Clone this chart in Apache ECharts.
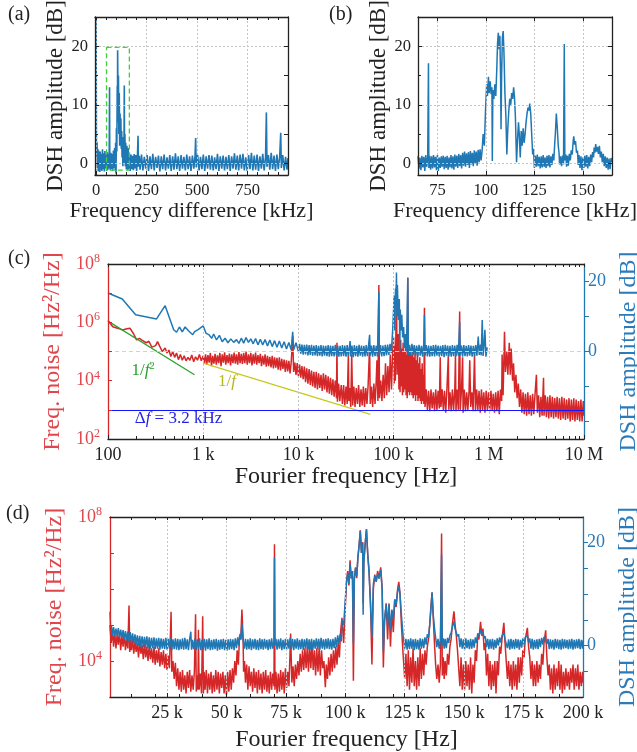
<!DOCTYPE html>
<html>
<head>
<meta charset="utf-8">
<script src="https://cdn.jsdelivr.net/npm/echarts@6/dist/echarts.min.js"></script>
<style>
html, body { margin: 0; padding: 0; background: #fff; }
#chart { width: 637px; height: 752px; }
</style>
</head>
<body>
<div id="chart"></div>
<script>
var SERIF = 'Liberation Serif';
var INK = '#222';
var BLUE = '#1f77b4', RED = '#d62728';
var RED_TXT = '#e0474c', BLUE_TXT = '#2b7bba';

// (a) DSH amplitude vs frequency difference, [kHz, dB]
var aDiff = [[0,25],[1,18],[2,4],[3,1.2],[5,3.6],[7,-0.8],[9,2.5],[11,-1.4],[13,2.2],[15,-1],[17,1.8],[19,-1.5],[21,2],[23,-1.1],[26,1.6],[29,-1.3],[32,2.4],[35,-1],[38,1.7],[41,-1.4],[44,2.1],[47,-0.9],[50,1.5],[53,-1.3],[56,1.9],[59,-1.1],[62,1.6],[65,-0.9],[67,13],[68,0.3],[71,-1.2],[74,1.8],[77,-1],[80,1.6],[83,-1.3],[86,2.2],[89,-0.8],[92,2.6],[95,-1.2],[97,3.5],[99,-1.8],[101,6],[103,2],[105,13.2],[106,7],[107,19.3],[109,9],[111,15],[113,5],[115,12],[117,3],[119,8.5],[121,4],[123,7.7],[125,2.5],[127,5.5],[129,1],[131,4.5],[133,-0.5],[136,3.8],[138,0],[140,13.3],[141,1.5],[143,5],[145,-0.5],[147,3.5],[150,-1],[153,3],[156,-1.2],[159,2.6],[162,-1],[165,1.8],[169,-1.3],[173,1.5],[177,-1],[181,1.3],[185,-1.2],[189,1.6],[193,-0.9],[197,1.4],[201,-1.3],[205,1.2],[208,4.7],[210,-0.6],[214,1.3],[218,-1.1],
  [225,1.5],[232,-1.2],[239,1.1],[246,-0.9],[253,1.4],[260,-1.3],[267,1.2],[274,-1],[281,1.6],[288,-1.2],[295,1.1],[302,-0.8],[309,1.3],[316,-1.4],[323,1.2],[330,-1],[337,1.5],[344,-1.2],[351,1],[358,-0.9],[365,1.4],[372,-1.3],[379,1.2],[386,-1.1],[393,1.7],[400,-1],[407,1.2],[414,-1.3],[421,1.4],[428,-0.9],[435,1.1],[442,-1.2],[449,1.5],[456,-1],[463,1.2],[470,-1.3],[477,1.3],[484,-0.9],[490,1.2],[493,4.3],[496,-0.7],[503,1.4],[510,-1.2],[517,1.1],[524,-1],[531,1.5],[538,-1.3],[545,1.2],[552,-0.9],[559,1.4],[566,-1.1],[573,1.3],[580,-1.2],[587,1],[594,-1],[601,1.6],[608,-1.3],[615,1.2],[622,-0.9],[629,1.3],[636,-1.2],[643,1.1],[650,-1],[657,1.4],[664,-1.3],[671,1.2],[678,-0.9],[685,1.7],[692,-1.1],[699,1.3],[706,-1.2],[713,1.5],[720,-0.9],[727,1.6],[734,-1.2],[741,1],[748,-1.3],[755,1.4],[762,-1],[769,1.8],[776,-1.2],[783,1.3],[790,-1.1],[797,1.5],[804,-1.3],[811,1.2],[818,-0.9],[825,1.6],[832,-1.2],[839,1.1],[843,8.7],[846,-0.6],[853,1.4],[860,-1.1],[867,1.8],[874,-1],[881,1.3],[888,-1.3],[895,1.5],[902,-1],[909,1.2],[914,5.2],[917,-0.8],[924,1.4],[931,-1.2],[938,1.1],[945,-1.1],[950,0.9]];

// (b) zoom of (a), [kHz, dB]
var bDiff = [[65,1.2],[65.5,-0.9],[66,1.0],[66.5,-1.2],[67,1.3],[67.5,-0.7],[68,1.1],[68.5,-1.3],[69,1.4],[69.5,-0.6],[70,1.0],[70.4,17.1],[70.6,-0.8],[71,1.3],[71.5,-1.1],[72,1.2],[72.5,-0.9],[73,1.4],[73.5,-0.7],[74,1.1],[74.5,-1.2],[75,1.4],[75.5,-1.3],[76,1.0],[76.5,-0.8],[77,1.2],[77.5,-0.6],[78,1.3],[78.5,-1.0],[79,1.1],[79.5,-0.8],[80,1.3],[80.5,-1.1],[81,1.0],[81.5,-0.7],[82,1.4],[82.5,-0.9],[83,1.2],[83.5,-1.1],[84,1.5],[84.5,-0.6],[85,1.3],[85.5,-0.8],[86,1.6],[86.5,-0.5],[87,1.4],[87.5,-0.9],[88,1.8],[88.5,-0.4],[89,2.0],[89.5,-0.6],[90,1.7],[90.5,-0.3],[91,1.9],[91.5,-0.8],[92,2.1],[92.5,-0.2],[93,1.8],[93.5,-0.5],[94,2.2],[94.5,-0.1],[95,2.0],[95.5,-0.4],[96,2.3],[96.5,0.2],[97,2.4],[97.5,0.5],[98,2.0],
  [98.6,5],[99.2,3],[99.8,9],[100.4,13.5],[100.8,11.5],[101.3,14.8],[101.7,12],[102.2,14],[102.7,11.8],[103.1,13],[103.3,0.4],[103.6,12.5],[104.1,11],[104.6,13.5],[105.1,11.5],[105.6,16],[106,20.5],[106.4,22.3],[106.8,19.5],[107.2,21.8],[107.6,14],[107.8,5.8],[108.1,15],[108.5,21.5],[108.9,22.6],[109.3,19],[109.8,12],[110.3,8],[110.8,1.5],[111.3,6],[111.8,9],[112.3,11],[112.8,10],[113.3,12],[113.8,11],[114.3,13],[114.7,11.5],[115.2,8],[115.8,0.2],[116.3,4],[116.8,7],[117.2,5],[117.7,1],[118.2,5.5],[118.7,3],[119.2,6],[119.7,3.5],[120.2,5],[120.7,7],[121.2,8.5],[121.7,9.5],[122.2,9],[122.6,10.2],[123.1,8.5],[123.6,5],[124.1,1.5],[124.5,2.5],
  [125,-0.8],[125.5,1.3],[126,-0.6],[126.5,1.5],[127,-0.5],[127.5,1.1],[128,-0.9],[128.5,1.2],[129,-0.7],[129.5,1.4],[130,-0.6],[130.5,1.0],[131,-0.8],[131.5,1.3],[132,-0.5],[132.5,1.4],[133,-0.7],[133.5,1.2],[134,-0.3],[134.5,1.6],[135,0.5],[135.5,3.5],[135.8,5],[136.3,8.5],[136.8,6],[137.3,3],[137.7,1.8],[138,-0.2],[138.5,1.2],[139,-0.5],[139.5,1.3],[140,-0.2],[140.4,20.4],[140.7,0.5],[141.2,1.5],[141.6,-0.6],[142,1.3],[142.5,-0.4],[143,1.6],[143.5,0.5],[144,2.2],[144.5,1.5],[145,3.8],[145.3,4.6],[145.7,3.2],[146.2,3.8],[146.7,1.8],[147.2,2.2],[147.6,-0.3],[148,1.4],[148.5,-0.8],[149,1.2],[149.5,-1.2],[150,1.0],[150.5,-0.8],[151,1.3],[151.5,-0.6],[152,1.4],[152.5,-0.9],[153,1.1],[153.5,-0.5],[154,1.5],[154.5,0.2],[155,1.9],[155.5,1.0],[155.8,2.7],[156.2,1.8],[156.6,3.3],[157,2.0],[157.5,2.8],[158,1.6],[158.5,3.0],[159,1.0],[159.5,2.0],[160,0.2],[160.5,1.6],[161,-0.5],[161.5,1.2],[162,-0.8],[162.5,1.0],[163,-1.1],[163.5,0.8],[164,-1.0],[164.5,0.9],[165,0.2]];

// dashed box in (a): kHz from, kHz to, dB low, dB high
var zoomBox = [52, 165, -1.15, 19.8];

// (c) frequency noise, [log10 f/Hz, log10 S/(Hz^2/Hz)]
var cNoise = [[2.0,6.06],[2.05,5.85],[2.1,5.8],[2.15,5.74],[2.2,5.78],[2.23,5.8],[2.27,5.6],[2.3,5.4],[2.33,5.45],[2.36,5.38],[2.4,5.3],[2.43,5.35],[2.46,5.15],[2.48,5.12],[2.5,5.2],[2.52,5.34],[2.54,5.2],[2.57,5.0],[2.6,5.12],[2.62,4.95],[2.64,5.05],[2.66,4.83],[2.68,5.0],[2.7,4.8],[2.72,4.95],[2.74,4.72],[2.76,4.9],[2.78,4.7],[2.8,4.85],[2.82,4.68],[2.84,4.8],[2.86,4.7],[2.88,4.88],[2.9,4.65],[2.92,4.82],[2.94,4.7],[2.96,4.9],[2.98,4.68],[3.0,4.85],
  [3.0125,4.6],[3.025,4.9],[3.0375,4.55],[3.05,4.88],[3.0625,4.62],[3.075,4.95],[3.0875,4.5],[3.1,4.85],[3.1125,4.58],[3.125,4.92],[3.1375,4.55],[3.15,4.87],[3.1625,4.6],[3.175,4.95],[3.1875,4.5],[3.2,4.9],[3.2125,4.62],[3.225,4.97],[3.2375,4.55],[3.25,4.88],[3.2625,4.6],[3.275,4.93],[3.2875,4.52],[3.3,4.9],[3.3125,4.6],[3.325,4.96],[3.3375,4.58],[3.35,4.9],[3.3625,4.55],[3.375,4.98],[3.3875,4.6],[3.4,4.92],[3.4125,4.57],[3.425,4.95],[3.4375,4.6],[3.45,5.0],[3.4625,4.55],[3.475,4.9],[3.4875,4.6],[3.5,4.95],[3.5125,4.52],[3.525,4.9],[3.5375,4.58],[3.55,4.96],[3.5625,4.55],[3.575,4.88],[3.5875,4.6],[3.6,4.92],[3.6125,4.5],[3.625,4.85],[3.6375,4.55],[3.65,4.9],[3.6625,4.48],[3.675,4.85],[3.6875,4.5],[3.7,4.82],[3.7125,4.45],[3.725,4.85],[3.7375,4.42],[3.75,4.8],[3.7625,4.45],[3.775,4.78],[3.7875,4.38],[3.8,4.8],[3.8125,4.35],[3.825,4.75],[3.8375,4.4],[3.85,4.72],[3.8625,4.3],[3.875,4.7],[3.8875,4.32],[3.9,4.68],[3.9125,4.25],[3.925,4.65],[3.94,5.53],[3.95,4.3],[3.9625,4.62],[3.975,4.2],[3.9875,4.6],[4.0,4.15],[4.0125,4.55],[4.025,4.1],[4.0375,4.5],[4.05,4.05],[4.0625,4.48],[4.075,3.95],[4.0875,4.42],[4.1,3.9],[4.1125,4.4],[4.125,3.85],[4.1375,4.35],[4.15,3.8],[4.1625,4.3],[4.175,3.75],[4.1875,4.3],[4.2,3.7],[4.2125,4.25],[4.225,3.75],[4.2375,4.2],[4.25,3.65],[4.2625,4.25],[4.275,3.7],[4.2875,4.2],[4.3,3.6],[4.3125,4.15],[4.325,3.55],[4.3375,4.1],[4.35,3.5],[4.3625,4.05],[4.375,3.45],[4.3875,4.0],[4.4,3.4],[4.405,5.3],[4.41,3.28],[4.4225,3.9],[4.435,3.3],[4.45,3.85],
  [4.4625,3.2],[4.475,3.85],[4.4875,3.15],[4.5,3.8],[4.5125,3.2],[4.525,4.94],[4.53,3.3],[4.5375,3.75],[4.55,3.1],[4.56,4.9],[4.57,3.15],[4.5825,3.8],[4.595,3.1],[4.6075,3.75],[4.62,3.2],[4.6325,3.85],[4.645,3.1],[4.6575,3.7],[4.67,3.15],[4.6825,3.8],[4.695,3.1],[4.7075,3.75],[4.72,3.2],[4.7325,3.85],[4.748,5.2],[4.755,3.2],[4.7675,3.8],[4.78,3.1],[4.7925,3.9],[4.805,3.2],[4.8175,4.0],[4.825,4.7],[4.835,3.3],[4.845,7.28],[4.852,3.4],[4.865,4.0],[4.8775,3.3],[4.89,4.2],[4.9025,3.4],[4.915,4.6],[4.9275,3.5],[4.94,4.5],[4.9525,3.6],[4.965,4.9],[4.9775,3.7],[4.99,5.0],
  [5.0,5.5],[5.006,3.9],[5.012,5.2],[5.018,4.0],[5.025,5.9],[5.03,7.3],[5.037,4.2],[5.043,5.3],[5.05,5.6],[5.056,3.7],[5.062,5.0],[5.068,3.6],[5.075,5.4],[5.081,3.8],[5.087,5.1],[5.093,3.5],[5.1,5.3],[5.106,3.6],[5.112,5.0],[5.118,3.7],[5.125,5.2],[5.131,3.5],[5.137,4.9],[5.143,3.4],[5.149,7.54],[5.155,3.6],[5.162,5.0],[5.168,3.5],[5.175,5.1],[5.181,3.6],[5.187,4.9],[5.193,3.5],[5.2,5.2],[5.206,3.4],[5.212,4.8],[5.218,3.5],[5.225,5.0],[5.231,3.3],[5.237,4.7],[5.243,3.5],[5.25,5.1],[5.256,3.3],[5.262,4.6],[5.268,3.4],[5.275,4.8],[5.281,3.3],[5.287,4.4],[5.293,3.2],[5.3,4.6],[5.306,3.3],[5.312,4.2],[5.318,3.2],[5.324,6.5],[5.33,3.1],
  [5.3425,3.7],[5.355,3.0],[5.3675,3.65],[5.38,2.95],[5.3925,3.7],[5.405,3.05],[5.4175,3.6],[5.43,2.95],[5.4425,3.7],[5.455,3.0],[5.4675,3.65],[5.48,3.05],[5.49,4.8],[5.4975,3.1],[5.51,3.7],[5.5225,3.0],[5.535,3.65],[5.5475,2.9],[5.56,3.7],[5.575,4.9],[5.58,3.0],[5.5925,3.6],[5.605,2.95],[5.6175,3.7],[5.63,3.0],[5.6425,3.65],[5.65,4.9],[5.655,2.95],[5.6675,3.7],[5.68,3.0],[5.694,6.37],[5.7,3.0],[5.7125,3.65],[5.725,4.8],[5.73,2.9],[5.7425,3.7],[5.755,2.95],[5.7675,3.6],[5.78,3.0],[5.7925,3.65],[5.8,4.7],[5.81,3.1],[5.8225,3.6],[5.835,2.95],[5.85,4.9],[5.86,2.95],[5.8725,3.7],[5.885,3.0],[5.8975,3.65],[5.91,2.9],[5.9225,3.7],[5.935,3.0],[5.9475,3.6],[5.96,2.9],[5.9725,3.65],[5.985,3.0],[5.9975,3.6],[6.01,2.95],[6.0225,3.65],[6.035,3.0],[6.0475,3.55],[6.06,2.9],[6.0725,3.6],[6.085,2.95],[6.0975,3.65],[6.11,2.85],[6.1225,3.7],[6.135,3.3],[6.14,4.9],[6.15,3.5],[6.165,5.68],[6.175,4.3],[6.19,5.0],[6.2,4.2],[6.215,5.3],[6.225,4.2],[6.235,5.1],[6.25,4.0],[6.26,4.6],[6.2725,3.6],[6.285,4.2],[6.2975,3.4],[6.31,3.9],[6.3225,3.1],[6.335,3.7],[6.3475,2.9],[6.36,3.6],[6.3725,2.85],[6.385,3.55],[6.3975,2.8],[6.41,3.6],[6.4225,2.85],[6.435,3.5],[6.4475,2.8],[6.46,3.55],[6.4725,2.85],[6.485,3.5],[6.5,4.2],[6.51,2.9],[6.5225,3.5],[6.535,2.75],[6.5475,3.45],[6.56,2.8],[6.575,4.1],[6.58,2.8],[6.5925,3.5],[6.605,2.75],[6.6175,3.45],[6.63,2.7],[6.6425,3.5],[6.655,2.75],[6.6675,3.45],[6.68,2.7],[6.6925,3.4],[6.705,2.75],[6.7175,3.45],[6.73,2.7],[6.7425,3.4],[6.755,2.65],[6.7675,3.45],[6.78,2.7],[6.7925,3.4],[6.805,2.65],[6.8175,3.35],[6.83,2.7],[6.8425,3.4],[6.855,2.6],[6.8675,3.35],[6.88,2.65],[6.8925,3.4],[6.905,2.6],[6.9175,3.35],[6.93,2.65],[6.9425,3.3],[6.955,2.6],[6.9675,3.35],[6.98,2.6],[6.9925,3.3],[7.0,2.8]];

// (c) DSH amplitude, [log10 f/Hz, dB]
var cDsh = [[2.0,16.7],[2.15,15],[2.29,10.5],[2.51,9.3],[2.6,13.1],[2.69,6.2],[2.72,5.5],[2.75,7],[2.78,5.6],[2.81,7],[2.85,5.8],[2.89,4.8],[2.91,5.7],[2.95,6.3],[3.0,7.3],[3.03,5.2],[3.06,4.8],[3.09,3.8],[3.11,5],[3.14,3.3],[3.17,4.6],[3.2,2.8],[3.23,3.8],[3.26,2.5],[3.29,3.6],[3.32,2.6],[3.35,3.4],[3.375,2.3],[3.4,3.8],[3.425,2.4],[3.45,4],[3.475,2.6],[3.5,3.6],[3.525,2.2],[3.55,3.7],[3.575,1.9],[3.6,3.5],[3.625,1.9],[3.65,3.4],[3.675,1.6],[3.7,3.3],[3.725,1.4],[3.75,3.1],[3.775,1.2],[3.8,3],[3.825,1],[3.85,2.8],[3.875,0.7],[3.9,2.6],[3.925,0.4],[3.94,5.6],[3.95,0.5],[3.975,2.5],[4.0,0],
  [4.0125,2.2],[4.025,-0.6],[4.0375,2.0],[4.05,-0.9],[4.0625,1.9],[4.075,-0.8],[4.0875,2.0],[4.1,-1.1],[4.1125,1.8],[4.125,-1.0],[4.1375,1.9],[4.15,-1.2],[4.1625,1.7],[4.175,-1.1],[4.1875,1.8],[4.2,-1.3],[4.2125,1.6],[4.225,-1.2],[4.2375,1.8],[4.25,-1.4],[4.2625,1.7],[4.275,-1.2],[4.2875,1.6],[4.3,-1.3],[4.3125,1.8],[4.325,-1.5],[4.3375,1.7],[4.35,-1.3],[4.3625,1.6],[4.375,-1.4],[4.3875,1.9],[4.4,-1.2],[4.4125,1.7],[4.425,-1.5],[4.4375,1.6],[4.45,-1.4],[4.4625,1.8],[4.475,-1.3],[4.4875,1.7],[4.5,-1.5],[4.5125,1.8],[4.525,-1.2],[4.543,3],[4.55,-1.4],[4.5625,1.7],[4.575,-1.6],[4.5875,1.8],[4.6,-1.3],[4.6125,1.6],[4.625,-1.5],[4.6375,1.9],[4.65,-1.2],[4.6625,1.7],[4.675,-1.5],[4.6875,1.6],[4.7,-1.4],[4.7125,1.8],[4.725,-1.3],[4.7375,1.9],[4.748,4.8],[4.755,-1.2],[4.7675,1.7],[4.78,-1.5],[4.7925,1.8],[4.805,-1.3],[4.8175,1.6],[4.83,-1.4],[4.845,17],[4.85,-1],[4.8625,1.8],[4.875,-1.4],[4.8875,1.7],[4.9,-1.3],[4.9125,1.9],[4.925,-1.1],[4.9375,2.0],[4.95,-1.0],[4.9625,2.2],[4.975,-0.5],[4.99,6],
  [5.0,12],[5.005,16],[5.012,6],[5.02,18],[5.027,14],[5.03,22.6],[5.035,10],[5.04,19],[5.05,9],[5.06,15],[5.065,0],[5.07,12],[5.08,6],[5.086,10.5],[5.095,4],[5.105,7],[5.115,1],[5.125,5],[5.135,0],[5.149,21],
  [5.155,-1],[5.1675,1.9],[5.18,-1.2],[5.1925,2.2],[5.205,-1.0],[5.2175,1.8],[5.23,-1.3],[5.2425,1.7],[5.255,-1.4],[5.2675,1.9],[5.28,-1.2],[5.2925,1.6],[5.305,-1.5],[5.3175,2.5],[5.324,10.5],[5.33,-1.2],[5.3425,1.8],[5.355,-1.4],[5.3675,1.7],[5.38,-1.5],[5.3925,1.6],[5.405,-1.3],[5.4175,1.8],[5.43,-1.4],[5.4425,1.9],[5.455,-1.2],[5.4675,1.7],[5.48,-1.5],[5.4925,1.6],[5.505,-1.3],[5.5175,1.8],[5.53,-1.6],[5.5425,1.9],[5.555,-1.2],[5.5675,1.7],[5.58,-1.4],[5.5925,1.6],[5.605,-1.5],[5.6175,1.8],[5.63,-1.3],[5.6425,1.7],[5.655,-1.4],[5.6675,1.9],[5.68,-1.2],[5.694,8.4],[5.7,-1.1],[5.7125,1.7],[5.725,-1.5],[5.7375,1.8],[5.75,-1.3],[5.7625,1.6],[5.775,-1.4],[5.7875,1.8],[5.8,-1.2],[5.8125,1.7],[5.825,-1.5],[5.8375,1.6],[5.85,-1.3],[5.8625,1.8],[5.875,-1.2],[5.889,4.3],[5.9,-1],[5.9125,2],[5.92,-1.1],[5.931,9],[5.94,-1.3],[5.95,1.9],[5.959,6.2],[5.97,-1.5],[5.983,1.2]];

// (c) guide lines, [Hz, Hz^2/Hz]
var fitInvSq = [[100, 1.1e6], [810, 1.6e4]];
var fitInv = [[1000, 4e4], [57000, 700]];
var beatLevel = 1000;

// (d) frequency noise, [kHz, log10 S]
var dNoise = [[1,5.0],[1.5,4.5],[2,4.85],[2.5,4.4],[3,4.8],[3.5,4.35],[4,4.75],[4.5,4.45],[5,4.8],[5.5,4.3],[6,4.7],[6.5,4.4],[7,4.75],[7.5,4.3],[8,4.65],[8.5,4.35],[9,5.54],[9.3,4.25],[9.5,4.6],[10,4.3],[10.5,4.62],[11,4.2],[11.5,4.55],[12,4.25],[12.5,4.5],[13,4.1],[13.5,4.55],[14,4.2],[14.5,4.45],[15,4.05],[15.5,4.5],[16,4.1],[16.5,4.4],[17,4.0],[17.5,4.45],[18,4.05],[18.5,4.35],[19,3.95],[19.5,4.4],[20,3.9],[20.5,4.3],[21,3.95],[21.5,4.35],[22,3.85],[22.5,4.25],[23,3.9],[23.5,4.3],[24,3.8],[24.5,4.2],[25,3.75],[25.5,4.15],[26,3.8],[26.7,5.37],[27,3.7],[27.5,4.0],[28,3.5],[28.5,3.95],[29,3.3],[29.5,3.8],[30,3.2],[30.5,3.7],[31,3.15],[31.5,3.75],[32,3.2],[32.5,3.6],[33,3.1],[33.5,3.7],[34,3.25],[34.5,3.75],[35,3.15],[35.5,3.6],[36,3.2],[36.5,3.7],[37,5.3],[37.3,3.15],[37.6,3.6],[38,3.2],[38.2,4.87],[38.5,3.2],[39,3.65],[39.5,3.1],[40,5.24],[40.3,3.1],[40.6,3.7],[41,3.2],[41.5,3.75],[42,3.1],[42.5,3.65],[43,3.2],[43.5,3.7],[44,3.1],[44.5,3.6],[45,3.15],[45.5,3.75],[46,3.2],[46.5,3.7],[47,3.1],[47.5,3.65],[48,3.25],[48.5,3.7],[49,3.1],[49.5,3.6],[50,3.05],[50.5,3.7],[51,3.15],[51.5,3.75],[52,3.2],[52.5,3.8],[53,3.4],[53.5,4.0],[54,3.6],[54.5,4.3],[55,3.9],[55.5,4.7],[56,4.6],[56.5,5.43],[57,4.6],[57.2,3.7],[57.6,4.0],[58,3.4],[58.5,3.9],[59,3.2],[59.5,3.85],[60,3.3],[60.5,3.7],[61,3.15],[61.5,3.8],[62,3.25],[62.5,3.7],[63,3.1],[63.5,3.75],[64,3.2],[64.5,3.65],[65,3.1],[65.5,3.7],[66,3.2],[66.5,3.75],[67,3.15],[67.5,3.6],[68,3.1],[68.5,3.7],[69,3.2],[69.5,3.65],[70,3.3],[70.2,7.24],[70.4,3.2],[70.8,3.7],[71.3,3.1],[71.8,3.65],[72.3,3.15],[72.8,3.75],[73.3,3.2],[73.8,3.7],[74.3,3.1],[74.8,3.8],[75.3,3.25],[75.8,3.7],[76.3,3.3],[77,4.76],[77.5,3.4],[78,3.85],[78.5,3.3],[79,3.9],[79.5,3.5],[80,4.0],[80.5,3.6],[81,4.2],[81.5,3.7],[82,4.3],[82.5,3.75],[83,4.35],[83.5,3.8],[84,4.4],[84.5,3.7],[85,4.45],[85.5,3.8],[86,4.5],[86.5,3.75],[87,4.3],[87.5,3.6],[88,4.35],[88.5,3.7],[89,4.4],[89.5,3.6],[90,4.3],[90.5,3.8],[91,4.0],[91.6,3.27],[92,3.9],[92.5,3.5],[93,4.1],[93.5,3.6],[94,4.2],[94.5,3.7],[95,4.3],[95.5,3.8],[96,4.4],[96.5,3.9],[97,4.5],[97.5,4.1],[98,4.8],[98.6,5.2],[99.3,4.5],[100,5.5],
  [100.5,6.2],[101,6.5],[101.5,6.1],[102,6.8],[102.5,6.3],[103,6.5],[103.4,3.45],[103.8,6.3],[104.3,6.6],[104.8,6.3],[105.3,6.9],[105.8,7.2],[106.3,7.63],[106.8,7.0],[107.3,7.3],[107.5,5.6],[107.8,6.8],[108.4,7.3],[108.9,7.66],[109.4,7.0],[110,6.5],[110.6,5.6],[111.2,3.9],[111.8,6.0],[112.4,6.4],[113,6.2],[113.6,6.5],[114.2,6.3],[114.9,6.6],[115.5,6.0],[116,3.82],[116.5,5.1],[117.2,5.6],[117.8,4.6],[118.4,5.6],[119,4.4],[119.6,5.4],[120.2,4.8],[120.8,5.7],[121.4,5.5],[122,6.0],[122.5,6.2],[123,5.9],[123.6,5.0],[124.3,4.2],
  [125,3.5],[125.5,4.2],[126,3.3],[126.5,4.3],[127,3.2],[127.5,4.1],[128,3.4],[128.5,4.35],[129,3.3],[129.5,4.0],[130,3.2],[130.5,4.1],[131,3.3],[131.5,4.35],[132,3.5],[132.5,4.2],[133,3.6],[133.5,4.3],[134,3.9],[134.5,4.4],[135,4.6],[135.5,5.0],[136,5.5],[136.5,5.91],[137,5.2],[137.5,4.5],[138,3.9],[138.5,3.5],[139,3.9],[139.5,3.4],[140,3.9],[140.5,7.54],[140.8,3.6],[141.2,4.1],[141.6,3.5],[142,4.0],[142.5,3.6],[143,4.2],[143.5,3.9],[144,4.4],[144.5,4.6],[145,5.0],[145.7,5.38],[146.2,5.0],[146.7,4.7],[147.2,4.3],[147.7,3.8],[148.2,3.3],[148.7,4.1],[149.2,3.2],[149.7,3.9],[150.2,3.2],[150.7,4.0],[151.2,3.3],[151.7,3.9],[152.2,3.2],[152.7,4.1],[153.2,3.1],[153.7,3.9],[154.2,3.4],[154.7,4.3],[155.2,4.0],[155.7,4.7],[156.2,4.6],[156.9,5.09],[157.4,4.7],[157.9,4.9],[158.4,4.3],[158.9,4.5],[159.4,3.6],[159.9,4.2],[160.4,3.3],[160.9,4.0],[161.4,3.2],[161.9,3.9],[162.4,3.3],[162.9,4.0],[163.4,3.1],[163.9,4.0],[164.4,3.6],[164.9,4.4],[165.4,4.2],[165.9,4.6],[166.7,5.06],[167.2,4.5],[167.7,4.0],[168.2,3.5],[168.7,4.0],[169.2,3.3],[169.7,3.9],[170.2,3.2],[170.7,4.0],[171.2,3.3],[171.7,3.9],[172.2,3.2],[172.7,4.1],[173.2,3.4],[173.7,4.1],[174.2,3.6],[174.7,4.3],[175.2,4.1],[175.7,4.6],[176.6,4.92],[177.1,4.4],[177.6,4.1],[178.1,3.5],[178.6,4.0],[179.1,3.3],[179.6,3.9],[180.1,3.3],[180.6,4.0],[181.1,3.4],[181.6,3.9],[182.1,3.5],[182.6,4.2],[183.1,3.9],[183.6,4.5],[184.3,4.85],[184.8,4.1],[185.3,3.6],[185.8,3.9],[186.3,3.2],[186.8,3.8],[187.3,3.1],[187.8,3.9],[188.3,3.2],[188.8,3.8],[189.3,3.3],[189.8,4.0],[190.3,3.2],[190.8,3.9],[191.3,3.1],[191.8,3.7],[192.3,3.2],[192.8,3.8],[193.3,3.3],[193.8,3.7],[194.3,3.2],[194.8,3.8],[195.3,3.4],[195.8,3.9],[196.3,3.2],[196.8,3.8],[197.3,3.3],[197.8,3.9],[198.3,3.2],[198.8,3.7],[199.3,3.3],[199.8,3.7],[200,3.4]];

// (d) DSH amplitude, [kHz, dB]
var dDsh = [[1,6.6],[1.3,2.2],[1.6,3.8],[2,2.0],[2.5,3.6],[3,1.8],[3.5,3.3],[4,2.0],[4.5,3.4],[5,1.6],[5.5,3.1],[6,1.5],[6.5,3.0],[7,1.2],[7.5,2.8],[8,1.0],[8.5,2.7],[9,0.8],[9.5,2.6],[10,0.6],[10.5,2.4],[11,0.4],[11.5,2.2],[12,0.2],[12.5,2.0],[13,0],[13.5,1.9],[14,-0.2],[14.5,1.8],[15,-0.3],[15.5,1.7],[16,-0.4],[16.5,1.8],[17,-0.5],[17.5,1.6],[18,-0.6],[18.5,1.5],[19,-0.5],[19.5,1.6],[20,-0.7],[20.5,1.4],[21,-0.6],[21.5,1.5],[22,-0.8],[22.5,1.4],[23,-0.6],[23.5,1.3],[24,-0.7],[24.5,1.5],[25,-0.8],[25.5,1.3],[26,-0.6],[26.5,1.4],[27,-0.9],[27.5,1.2],[28,-0.7],[28.5,1.4],[29,-0.8],[29.5,1.3],[30,-0.9],[30.5,1.2],[31,-0.7],[31.5,1.4],[32,-0.8],[32.5,1.5],[33,-0.7],[33.5,1.2],[34,-0.9],[34.5,1.3],[35,2.7],[35.3,-0.8],[35.7,1.1],[36.2,-0.7],[36.7,1.3],[37.2,-0.9],[37.7,1.2],[38.2,-0.6],[38.7,1.4],[39.2,-0.9],[39.7,1.1],[40.2,-0.8],[40.7,1.3],[41.2,-1.0],[41.7,1.2],[42.2,-0.7],[42.7,1.4],[43.2,-0.9],[43.7,1.1],[44.2,-0.8],[44.7,1.2],[45.2,-0.7],[45.7,1.3],[46.2,-1.0],[46.7,1.1],[47.2,-0.8],[47.7,1.2],[48.2,-0.7],[48.7,1.3],[49.2,-0.9],[49.7,1.1],[50.2,-1.0],[50.7,1.2],[51.2,-0.8],[51.7,1.3],[52.2,-0.7],[52.7,1.2],[53.2,-0.9],[53.7,1.4],[54.2,-0.5],[54.7,1.6],[55.2,0],[55.7,2.3],[56.1,1.2],[56.5,4.4],[57,1.0],[57.5,-0.6],[58,1.3],[58.5,-0.8],[59,1.2],[59.5,-0.7],[60,1.4],[60.5,-0.9],[61,1.2],[61.5,-0.6],[62,1.3],[62.5,-0.8],[63,1.1],[63.5,-0.9],[64,1.4],[64.5,-0.7],[65,1.2],[65.5,-0.8],[66,1.3],[66.5,-0.6],[67,1.1],[67.5,-0.9],[68,1.2],[68.5,-0.7],[69,1.4],[69.5,-0.6],[70,1.0],[70.2,17.1],[70.4,0],[70.8,1.3],[71.3,-0.8],[71.8,1.2],[72.3,-0.6],[72.8,1.4],[73.3,-0.9],[73.8,1.1],[74.3,-0.7],[74.8,1.3],[75.3,-0.8],[75.8,1.2],[76.3,-0.6],[76.8,1.5],[77.3,-0.7],[77.8,1.3],[78.3,-0.9],[78.8,1.2],[79.3,-0.6],[79.8,1.4],[80.3,-0.8],[80.8,1.1],[81.3,-0.7],[81.8,1.3],[82.3,-0.9],[82.8,1.2],[83.3,-0.6],[83.8,1.4],[84.3,-0.8],[84.8,1.2],[85.3,-0.7],[85.8,1.3],[86.3,-0.9],[86.8,1.1],[87.3,-0.6],[87.8,1.4],[88.3,-0.7],[88.8,1.3],[89.3,-0.8],[89.8,1.5],[90.3,-0.6],[90.8,1.2],[91.3,-0.8],[91.8,1.3],[92.3,-0.6],[92.8,1.4],[93.3,-0.7],[93.8,1.2],[94.3,-0.8],[94.8,1.3],[95.3,-0.5],[95.8,1.6],[96.3,-0.3],[96.8,2.0],[97.3,0.3],[97.8,2.2],[98.3,0.8],[98.6,5],[99.3,4],[100,4],
  [100.5,12.5],[101,14],[101.5,12],[102,15.8],[102.5,13],[103,14.5],[103.4,0.5],[103.8,13],[104.3,15],[104.8,13.5],[105.3,17],[105.8,19.5],[106.3,22.3],[106.8,18],[107.3,20],[107.5,6],[107.8,16],[108.4,20],[108.9,22.6],[109.4,18],[110,14],[110.6,8],[111.2,1.5],[111.8,12],[112.4,13.5],[113,12.5],[113.6,14],[114.2,13],[114.9,14.8],[115.5,11],[116,-1.2],[116.5,5],[117.2,8],[117.8,4],[118.4,8],[119,3],[119.6,7],[120.2,5],[120.8,9],[121.4,8],[122,10.5],[122.5,11.5],[123,10],[123.6,6],[124.3,2],
  [125,-0.6],[125.5,1.3],[126,-0.8],[126.5,1.2],[127,-0.7],[127.5,1.4],[128,-0.6],[128.5,1.2],[129,-0.9],[129.5,1.3],[130,-0.7],[130.5,1.1],[131,-0.8],[131.5,1.4],[132,-0.6],[132.5,1.3],[133,-0.5],[133.5,1.6],[134,0.2],[134.5,2.2],[135,1.5],[135.5,4],[136,7],[136.5,10.3],[137,6],[137.5,3.5],[138,1.5],[138.5,-0.3],[139,1.3],[139.5,-0.6],[140,1.2],[140.5,17.7],[140.8,0],[141.2,1.4],[141.6,-0.6],[142,1.3],[142.5,-0.5],[143,1.5],[143.5,0.5],[144,2],[144.5,2.5],[145,3.5],[145.7,4.7],[146.2,3.2],[146.7,3.5],[147.2,1.8],[147.7,2.2],[148.2,-0.3],[148.7,1.4],[149.2,-0.6],[149.7,1.2],[150.2,-0.8],[150.7,1.4],[151.2,-0.5],[151.7,1.1],[152.2,-0.7],[152.7,1.3],[153.2,-0.6],[153.7,1.2],[154.2,-0.4],[154.7,1.6],[155.2,0.5],[155.7,2.4],[156.2,1.8],[156.9,3],[157.4,2.2],[157.9,2.8],[158.4,1.4],[158.9,1.8],[159.4,-0.3],[159.9,1.3],[160.4,-0.7],[160.9,1.2],[161.4,-0.6],[161.9,1.3],[162.4,-0.8],[162.9,1.1],[163.4,-0.5],[163.9,1.4],[164.4,0],[164.9,1.6],[165.4,0.6],[165.9,1.9],[166.7,2.5],[167.2,1.2],[167.7,1.3],[168.2,-0.5],[168.7,1.2],[169.2,-0.8],[169.7,1.3],[170.2,-0.6],[170.7,1.1],[171.2,-0.7],[171.7,1.3],[172.2,-0.5],[172.7,1.2],[173.2,-0.8],[173.7,1.1],[174.2,-0.4],[174.7,1.4],[175.2,0.2],[175.7,1.6],[176.6,2.0],[177.1,0.6],[177.6,1.4],[178.1,-0.6],[178.6,1.3],[179.1,-0.8],[179.6,1.1],[180.1,-0.6],[180.6,1.2],[181.1,-0.7],[181.6,1.3],[182.1,-0.3],[182.6,1.5],[183.1,0.2],[183.6,1.7],[184.3,2.0],[184.8,0.3],[185.3,1.3],[185.8,-0.7],[186.3,1.2],[186.8,-0.6],[187.3,1.1],[187.8,-0.8],[188.3,1.3],[188.8,-0.5],[189.3,1.2],[189.8,-0.7],[190.3,1.1],[190.8,-0.8],[191.3,1.3],[191.8,-0.6],[192.3,1.2],[192.8,-0.5],[193.3,1.1],[193.8,-0.7],[194.3,1.2],[194.8,-0.6],[195.3,1.3],[195.8,-0.8],[196.3,1.1],[196.8,-0.6],[197.3,1.2],[197.8,-0.5],[198.3,1.3],[198.8,-0.7],[199.3,1.1],[199.8,-0.6],[200,1.0]];

// tick positions
var aTicks = [0, 250, 500, 750];
var aMinor = [50, 100, 150, 200, 300, 350, 400, 450, 550, 600, 650, 700, 800, 850, 900];
var bTicks = [75, 100, 125, 150];
var dbMajor = [0, 10, 20];
var dbMinor = [5, 15];
var cDecades = [100, 1e3, 1e4, 1e5, 1e6, 1e7];
var cTickText = ['100', '1 k', '10 k', '100 k', '1 M', '10 M'];
var dTicks = [25, 50, 75, 100, 125, 150, 175];
var dLabels = [25, 50, 75, 100, 125, 150, 175, 200];
var dMinor = [10, 20, 30, 40, 60, 70, 80, 90, 110, 120, 130, 140, 160, 170, 180, 190];

var cMinor = [];
cDecades.slice(0, 5).forEach(function (d) { for (var m = 2; m < 10; m++) cMinor.push(m * d); });

var xAxes = [], yAxes = [];
function axis(list, o) {
  var c = o.color || INK;
  list.push({
    gridIndex: o.grid, type: o.log ? 'log' : 'value', logBase: 10,
    position: o.pos, min: o.min, max: o.max,
    axisLine: { show: !!o.line, onZero: false, lineStyle: { color: c, width: 1.3 } },
    axisTick: { show: true, inside: !o.out, length: o.len || 4, customValues: o.ticks, lineStyle: { color: c, width: 1 } },
    axisLabel: o.labels ? {
      show: true, customValues: o.labels, formatter: o.fmt, color: o.txt || INK,
      fontFamily: SERIF, fontSize: o.fs || 16.5, margin: o.margin || 7, rich: o.rich
    } : { show: false },
    splitLine: { show: !!o.split, lineStyle: { color: '#c4c4c4', type: [2, 2], width: 1 } },
    name: o.name || '', nameLocation: 'middle', nameGap: o.gap || 0, nameRotate: o.rot || 0,
    nameTextStyle: { fontFamily: SERIF, fontSize: o.nfs || 22, color: o.txt || INK },
    z: 5
  });
  return list.length - 1;
}

function expFmt(v) { return '{b|10}{s|' + Math.round(Math.log10(v)) + '}'; }
var expRich = {
  b: { fontFamily: SERIF, fontSize: 18, color: RED_TXT },
  s: { fontFamily: SERIF, fontSize: 12, color: RED_TXT, padding: [0, 0, 10, 0] }
};

// (a)
var xa = axis(xAxes, { grid: 0, pos: 'bottom', min: -5, max: 950, line: true, ticks: aTicks, labels: aTicks, split: true, name: 'Frequency difference [kHz]', gap: 23 });
axis(xAxes, { grid: 0, pos: 'bottom', min: -5, max: 950, ticks: aMinor, len: 3 });
axis(xAxes, { grid: 0, pos: 'top', min: -5, max: 950, line: true, ticks: aTicks.concat(aMinor), len: 3 });
var ya = axis(yAxes, { grid: 0, pos: 'left', min: -2, max: 25, line: true, ticks: dbMajor, labels: dbMajor, split: true, name: 'DSH amplitude [dB]', gap: 23, rot: 90, nfs: 23 });
axis(yAxes, { grid: 0, pos: 'left', min: -2, max: 25, ticks: dbMinor, len: 3 });
axis(yAxes, { grid: 0, pos: 'right', min: -2, max: 25, line: true, ticks: dbMajor.concat(dbMinor) });

// (b)
var xb = axis(xAxes, { grid: 1, pos: 'bottom', min: 65, max: 165, line: true, ticks: bTicks, labels: bTicks, split: true, name: 'Frequency difference [kHz]', gap: 23 });
axis(xAxes, { grid: 1, pos: 'top', min: 65, max: 165, line: true, ticks: bTicks });
var yb = axis(yAxes, { grid: 1, pos: 'left', min: -2, max: 25, line: true, ticks: dbMajor, labels: dbMajor, split: true, name: 'DSH amplitude [dB]', gap: 26, rot: 90, nfs: 23 });
axis(yAxes, { grid: 1, pos: 'left', min: -2, max: 25, ticks: dbMinor, len: 3 });
axis(yAxes, { grid: 1, pos: 'right', min: -2, max: 25, line: true, ticks: dbMajor.concat(dbMinor) });

// (c)
var xc = axis(xAxes, { grid: 2, pos: 'bottom', log: true, min: 100, max: 1e7, line: true, ticks: cDecades, labels: cDecades, split: true, fs: 18,
  fmt: function (v) { return cTickText[Math.round(Math.log10(v)) - 2]; }, name: 'Fourier frequency [Hz]', gap: 26, nfs: 24 });
axis(xAxes, { grid: 2, pos: 'bottom', log: true, min: 100, max: 1e7, ticks: cMinor, len: 3 });
axis(xAxes, { grid: 2, pos: 'top', log: true, min: 100, max: 1e7, line: true, ticks: cDecades.concat(cMinor), len: 3 });
var ycL = axis(yAxes, { grid: 2, pos: 'left', log: true, min: 100, max: 1e8, line: true, color: RED, txt: RED_TXT,
  ticks: [1e3, 1e4, 1e5, 1e6, 1e7], labels: [1e2, 1e4, 1e6, 1e8], fmt: expFmt, rich: expRich, margin: 8,
  name: 'Freq. noise [Hz\u00b2/Hz]', gap: 33, rot: 90, nfs: 24 });
var ycR = axis(yAxes, { grid: 2, pos: 'right', min: -25, max: 25, line: true, color: BLUE, txt: BLUE_TXT, out: true, len: 5, fs: 18,
  ticks: [-20, -10, 0, 10, 20], labels: [0, 20], margin: 4, name: 'DSH amplitude [dB]', gap: 32, rot: 90, nfs: 24 });

// (d)
var xd = axis(xAxes, { grid: 3, pos: 'bottom', min: 1, max: 200, line: true, ticks: dTicks, labels: dLabels, split: true, fs: 18,
  fmt: function (v) { return v + ' k'; }, name: 'Fourier frequency [Hz]', gap: 31, nfs: 24 });
axis(xAxes, { grid: 3, pos: 'bottom', min: 1, max: 200, ticks: dMinor, len: 3 });
axis(xAxes, { grid: 3, pos: 'top', min: 1, max: 200, line: true, ticks: dTicks.concat(dMinor), len: 3 });
var ydL = axis(yAxes, { grid: 3, pos: 'left', log: true, min: 1e3, max: 1e8, line: true, color: RED, txt: RED_TXT,
  ticks: [1e4, 1e5, 1e6, 1e7], labels: [1e4, 1e8], fmt: expFmt, rich: expRich, margin: 8,
  name: 'Freq. noise [Hz\u00b2/Hz]', gap: 32, rot: 90, nfs: 24 });
var ydR = axis(yAxes, { grid: 3, pos: 'right', min: -10, max: 25, line: true, color: BLUE, txt: BLUE_TXT, out: true, len: 5, fs: 18,
  ticks: [-5, 0, 5, 10, 15, 20], labels: [0, 20], margin: 4, name: 'DSH amplitude [dB]', gap: 32, rot: 90, nfs: 24 });

function line(xi, yi, data, color, z, width, extra) {
  return Object.assign({
    type: 'line', xAxisIndex: xi, yAxisIndex: yi, data: data, showSymbol: false, symbol: 'none',
    lineStyle: { color: color, width: width }, itemStyle: { color: color }, z: z, silent: true,
    animation: false, sampling: null
  }, extra || {});
}
function noteLabel(coord, text, color) {
  return {
    symbol: 'circle', symbolSize: 1, itemStyle: { color: 'rgba(0,0,0,0)' }, silent: true,
    label: {
      show: true, position: 'inside', formatter: text, color: color,
      rich: {
        n: { fontFamily: SERIF, fontSize: 17, color: color },
        i: { fontFamily: SERIF, fontSize: 17, fontStyle: 'italic', color: color },
        s: { fontFamily: SERIF, fontSize: 11, color: color, padding: [0, 0, 9, 0] }
      }
    },
    data: [{ coord: coord }]
  };
}
function pow10(v) { return Math.pow(10, v); }

var series = [
  line(xa, ya, aDiff, BLUE, 3, 1.6, {
    markArea: {
      silent: true, z: 6,
      itemStyle: { color: 'rgba(0,0,0,0)', borderColor: '#3fd13f', borderWidth: 1.3, borderType: [5, 3] },
      data: [[{ xAxis: zoomBox[0], yAxis: zoomBox[3] }, { xAxis: zoomBox[1], yAxis: zoomBox[2] }]]
    }
  }),
  line(xb, yb, bDiff, BLUE, 3, 1.5),
  line(xc, ycL, cNoise.map(function (p) { return [pow10(p[0]), pow10(p[1])]; }), RED, 2, 1.5, {
    markLine: { silent: true, symbol: 'none', label: { show: false }, animation: false,
      lineStyle: { color: '#1414ff', width: 1.2, type: 'solid' }, data: [{ yAxis: beatLevel }] },
    markPoint: noteLabel([550, 490], '{n|\u0394}{i|f}{n| = 3.2 kHz}', '#2424e6')
  }),
  line(xc, ycR, cDsh.map(function (p) { return [pow10(p[0]), p[1]]; }), BLUE, 3, 1.5, {
    markLine: { silent: true, symbol: 'none', label: { show: false }, animation: false,
      lineStyle: { color: '#efbdef', width: 1, type: [4, 3] }, data: [{ yAxis: 0 }] }
  }),
  line(xc, ycL, fitInvSq, '#2ca02c', 4, 1.2, { markPoint: noteLabel([234, 2.3e4], '{n|1/}{i|f}{s|2}', '#2ca02c') }),
  line(xc, ycL, fitInv, '#c8c81e', 4, 1.2, { markPoint: noteLabel([1780, 9.1e3], '{n|1/}{i|f}', '#b8b81a') }),
  line(xd, ydL, dNoise.map(function (p) { return [p[0], pow10(p[1])]; }), RED, 2, 1.5),
  line(xd, ydR, dDsh, BLUE, 3, 1.5)
];

function panelTag(text, left, top) {
  return { type: 'text', left: left, top: top, style: { text: text, fontFamily: SERIF, fontSize: 20, fill: INK } };
}

var chart = echarts.init(document.getElementById('chart'), null, { renderer: 'canvas' });
chart.setOption({
  animation: false,
  backgroundColor: '#fff',
  textStyle: { fontFamily: SERIF },
  grid: [
    { left: 95, top: 17, width: 193, height: 158, outerBoundsMode: 'none' },
    { left: 418, top: 17, width: 194, height: 158, outerBoundsMode: 'none' },
    { left: 108, top: 264, width: 476, height: 175, outerBoundsMode: 'none' },
    { left: 110, top: 517, width: 473, height: 180, outerBoundsMode: 'none' }
  ],
  xAxis: xAxes,
  yAxis: yAxes,
  series: series,
  graphic: [
    panelTag('(a)', 8, 5),
    panelTag('(b)', 329, 5),
    panelTag('(c)', 8, 249),
    panelTag('(d)', 6, 504)
  ]
});
</script>
</body>
</html>
